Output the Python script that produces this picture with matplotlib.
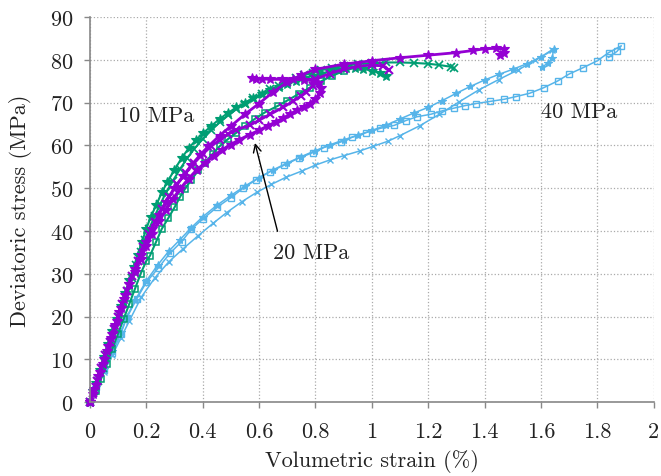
import numpy as np
import matplotlib
matplotlib.use('Agg')
import matplotlib.pyplot as plt

plt.rcParams['font.family'] = 'serif'
plt.rcParams['font.serif'] = ['cmr10']
plt.rcParams['mathtext.fontset'] = 'cm'
plt.rcParams['axes.formatter.use_mathtext'] = True

# 10 MPa (green)
g1_x = [0, 0.01, 0.02, 0.035, 0.05, 0.065, 0.08, 0.095, 0.11, 0.125, 0.14, 0.155, 0.17, 0.185, 0.2, 0.215, 0.235, 0.255, 0.275, 0.3, 0.325, 0.35, 0.375, 0.4, 0.43, 0.46, 0.49, 0.52, 0.55, 0.58, 0.61, 0.64, 0.67, 0.7, 0.73, 0.76, 0.79, 0.82, 0.85, 0.88, 0.91, 0.94, 0.97, 1.0, 1.03, 1.05]
g1_y = [0, 2.5, 4.5, 7.5, 10.5, 13.5, 16.5, 19.5, 22.5, 25.5, 28.5, 31.5, 34.5, 37.5, 40.5, 43.2, 46, 49, 51.5, 54.3, 57, 59.3, 61.2, 62.8, 64.5, 66.2, 67.6, 68.9, 70.0, 71.1, 72.1, 72.9, 73.7, 74.4, 75.1, 75.7, 76.3, 76.8, 77.3, 77.7, 78.0, 78.1, 77.9, 77.5, 76.9, 76.3]
g2_x = [0, 0.015, 0.03, 0.045, 0.06, 0.075, 0.09, 0.105, 0.12, 0.135, 0.15, 0.165, 0.18, 0.195, 0.21, 0.23, 0.25, 0.27, 0.295, 0.32, 0.345, 0.37, 0.4, 0.43, 0.46, 0.49, 0.52, 0.55, 0.58, 0.61, 0.64, 0.67, 0.7, 0.73, 0.76, 0.79, 0.82, 0.86, 0.9, 0.95, 1.0, 1.05, 1.1, 1.15, 1.2, 1.24, 1.28, 1.29]
g2_y = [0, 2.5, 5, 8, 11, 14, 17, 20, 23, 26, 29, 32, 35, 37.8, 40.5, 43.5, 46.3, 49, 51.8, 54.5, 57, 59.2, 61.5, 63.5, 65.4, 67, 68.5, 69.8, 71, 72.1, 73.1, 74, 74.9, 75.7, 76.4, 77, 77.6, 78.1, 78.6, 79, 79.3, 79.4, 79.4, 79.3, 79.1, 78.8, 78.4, 78.0]
g3_x = [0, 0.02, 0.04, 0.06, 0.08, 0.1, 0.12, 0.14, 0.16, 0.18, 0.2, 0.213, 0.235, 0.255, 0.278, 0.3, 0.32, 0.337, 0.36, 0.385, 0.408, 0.435, 0.46, 0.49, 0.52, 0.55, 0.585, 0.62, 0.668, 0.7, 0.74, 0.78, 0.82, 0.86, 0.9, 0.95, 1.0, 1.03]
g3_y = [0, 2.5, 5.5, 9, 12.5, 16, 19.5, 23, 26.5, 30, 33, 34.2, 37.5, 40.5, 43, 45.5, 48, 49.8, 52, 54.2, 56, 58, 59.8, 61.5, 63, 64.5, 66.2, 67.7, 69.3, 70.5, 72, 73.5, 75, 76.3, 77.4, 78.4, 79, 79.2]

# 20 MPa (purple)
p1_x = [0, 0.01, 0.02, 0.035, 0.05, 0.065, 0.08, 0.095, 0.11, 0.125, 0.14, 0.16, 0.18, 0.2, 0.22, 0.245, 0.27, 0.295, 0.32, 0.35, 0.38, 0.41, 0.44, 0.47, 0.5, 0.53, 0.567, 0.6, 0.63, 0.66, 0.685, 0.71, 0.735, 0.76, 0.78, 0.8, 0.815, 0.818, 0.81, 0.79, 0.76, 0.72, 0.68, 0.64, 0.61, 0.59, 0.575]
p1_y = [0, 2, 4, 7, 10, 13, 16, 19, 22, 25, 27.5, 30.5, 33.5, 36.5, 39.3, 42.3, 45, 47.5, 49.8, 52.2, 54.3, 56, 57.6, 59, 60.2, 61.3, 62.5, 63.5, 64.5, 65.5, 66.3, 67.3, 68.2, 69, 69.8, 70.8, 72.2, 73.5, 74.6, 75.2, 75.4, 75.5, 75.5, 75.5, 75.6, 75.6, 75.8]
p2_x = [0, 0.01, 0.025, 0.04, 0.055, 0.07, 0.085, 0.1, 0.115, 0.13, 0.15, 0.17, 0.19, 0.21, 0.23, 0.255, 0.28, 0.31, 0.34, 0.37, 0.4, 0.43, 0.46, 0.49, 0.52, 0.567, 0.6, 0.64, 0.685, 0.72, 0.75, 0.768, 0.79, 0.8, 0.85, 0.9, 0.95, 1.0, 1.04, 1.06]
p2_y = [0, 2.2, 5, 8, 11, 14, 17, 20, 23, 26, 29.5, 33, 36.2, 39.2, 42, 45.2, 48, 51, 53.6, 55.9, 58, 59.8, 61.3, 62.6, 63.7, 64.7, 65.9, 67.3, 68.9, 70.3, 71.6, 72.4, 74, 75.5, 76.8, 77.8, 78.5, 78.8, 78.6, 77.6]
p3_x = [0, 0.015, 0.03, 0.045, 0.06, 0.075, 0.09, 0.105, 0.12, 0.14, 0.16, 0.18, 0.2, 0.22, 0.245, 0.27, 0.3, 0.33, 0.36, 0.39, 0.42, 0.46, 0.5, 0.55, 0.6, 0.65, 0.7, 0.75, 0.8, 0.9, 1.0, 1.1, 1.2, 1.3, 1.36, 1.4, 1.44, 1.47, 1.47, 1.455]
p3_y = [0, 3, 6, 9, 12, 15, 18, 21, 24, 27.5, 31, 34.3, 37.5, 40.5, 43.8, 46.8, 50, 52.8, 55.4, 57.7, 59.8, 62.3, 64.5, 67.3, 69.8, 72.5, 74.8, 76.5, 77.8, 79, 79.8, 80.5, 81.1, 81.7, 82.2, 82.6, 82.7, 82.5, 81.6, 81.2]

# 40 MPa (light blue)
bs_x = [0, 0.02, 0.05, 0.08, 0.11, 0.13, 0.166, 0.2, 0.242, 0.284, 0.325, 0.36, 0.4, 0.45, 0.5, 0.544, 0.59, 0.64, 0.69, 0.74, 0.79, 0.83, 0.89, 0.93, 0.98, 1.03, 1.08, 1.12, 1.16, 1.21, 1.25, 1.29, 1.33, 1.37, 1.42, 1.47, 1.51, 1.56, 1.61, 1.66, 1.7, 1.75, 1.8, 1.84, 1.885, 1.87, 1.84]
bs_y = [0, 3.5, 7.5, 11.5, 16, 19.6, 24.1, 28, 31.3, 34.8, 37.5, 40.4, 42.8, 45.5, 47.8, 50.0, 52.0, 53.9, 55.4, 57.0, 58.3, 59.5, 60.8, 61.9, 63.0, 64.0, 64.7, 65.8, 66.7, 67.3, 68.1, 68.7, 69.3, 69.8, 70.3, 70.8, 71.4, 72.2, 73.5, 75.1, 76.7, 78.2, 79.8, 81.7, 83.3, 82.0, 80.6]
bst_x = [0, 0.02, 0.05, 0.08, 0.11, 0.13, 0.16, 0.2, 0.24, 0.28, 0.32, 0.36, 0.4, 0.45, 0.5, 0.55, 0.6, 0.65, 0.7, 0.75, 0.8, 0.85, 0.9, 0.95, 1.0, 1.05, 1.1, 1.15, 1.2, 1.25, 1.3, 1.35, 1.4, 1.45, 1.5, 1.55, 1.6, 1.645, 1.64, 1.625, 1.605]
bst_y = [0, 3.5, 7.8, 12, 16.3, 19.8, 23.8, 28.3, 32, 35.3, 38, 40.8, 43.3, 46, 48.3, 50.5, 52.5, 54.3, 55.9, 57.4, 58.8, 60.1, 61.3, 62.4, 63.5, 64.7, 66.2, 67.6, 68.9, 70.5, 72.2, 73.8, 75.3, 76.6, 77.8, 79.1, 80.7, 82.6, 80.5, 79.2, 78.4]
bx_x = [0, 0.02, 0.05, 0.08, 0.11, 0.14, 0.183, 0.23, 0.28, 0.33, 0.384, 0.437, 0.485, 0.538, 0.591, 0.644, 0.697, 0.751, 0.8, 0.851, 0.9, 0.957, 1.005, 1.058, 1.1, 1.17, 1.24, 1.31, 1.38, 1.45, 1.52, 1.58, 1.64]
bx_y = [0, 3, 7, 11, 15, 19, 24.6, 29, 32.8, 35.8, 38.9, 41.8, 44.3, 46.8, 49, 50.9, 52.6, 54, 55.4, 56.6, 57.6, 58.7, 59.8, 61, 62.3, 64.6, 67.3, 70.2, 73, 75.4, 77.7, 79.9, 82.2]

xticks = [0, 0.2, 0.4, 0.6, 0.8, 1, 1.2, 1.4, 1.6, 1.8, 2]
xtick_labels = ['0', '0.2', '0.4', '0.6', '0.8', '1', '1.2', '1.4', '1.6', '1.8', '2']
yticks = [0, 10, 20, 30, 40, 50, 60, 70, 80, 90]

green = '#009E73'
purple = '#9400D3'
blue = '#56B4E9'
txt = '#222222'

fig = plt.figure(figsize=(6.61, 4.77), dpi=100)
ax = fig.add_axes([0.136, 0.155, 0.853, 0.807])

# blue first, then green, purple on top
ax.plot(bx_x, bx_y, color=blue, marker='x', ms=5, lw=1.1, mew=1, clip_on=False)
ax.plot(bst_x, bst_y, color=blue, marker='*', ms=6, lw=1.1, mew=0.8, clip_on=False)
ax.plot(bs_x, bs_y, color=blue, marker='s', ms=5, lw=1.1, mfc='none', mew=1, clip_on=False)

ax.plot(g3_x, g3_y, color=green, marker='s', ms=5, lw=1.5, mfc='none', mew=1.1, clip_on=False)
ax.plot(g2_x, g2_y, color=green, marker='x', ms=6, lw=1.5, mew=1.2, clip_on=False)
ax.plot(g1_x, g1_y, color=green, marker='*', ms=7, lw=1.5, mew=0.8, clip_on=False)

ax.plot(p2_x, p2_y, color=purple, marker='x', ms=6, lw=2, mew=1.5, clip_on=False)
ax.plot(p3_x, p3_y, color=purple, marker='*', ms=7, lw=2, mew=0.8, clip_on=False)
ax.plot(p1_x, p1_y, color=purple, marker='*', ms=7, lw=2.3, mew=0.8, clip_on=False)

ax.text(0.1, 67, '10 MPa', fontsize=16, color=txt, va='center', ha='left')
ax.text(1.6, 68, '40 MPa', fontsize=16, color=txt, va='center', ha='left')
ax.text(0.65, 35, '20 MPa', fontsize=16, color=txt, va='center', ha='left')
ax.annotate('', xy=(0.583, 61.2), xytext=(0.668, 39.3),
            arrowprops=dict(arrowstyle='->', color='black', lw=1, mutation_scale=14))

ax.set_xlim(0, 2)
ax.set_ylim(0, 90)
ax.set_xticks(xticks)
ax.set_xticklabels(xtick_labels)
ax.set_yticks(yticks)
ax.tick_params(labelsize=16, colors='#888888', labelcolor=txt, length=4, width=1)
ax.tick_params(axis='x', pad=10)
ax.tick_params(axis='y', pad=8)
ax.grid(True, linestyle=':', color='#aaaaaa', linewidth=0.9)
ax.set_axisbelow(True)
for s in ['top', 'right']:
    ax.spines[s].set_visible(False)
for s in ['left', 'bottom']:
    ax.spines[s].set_color('#888888')
    ax.spines[s].set_linewidth(1.2)

ax.set_xlabel('Volumetric strain (%)', fontsize=16, color=txt, labelpad=6)
ax.set_ylabel('Deviatoric stress (MPa)', fontsize=16, color=txt, labelpad=13)

fig.savefig('out.png', dpi=100)
